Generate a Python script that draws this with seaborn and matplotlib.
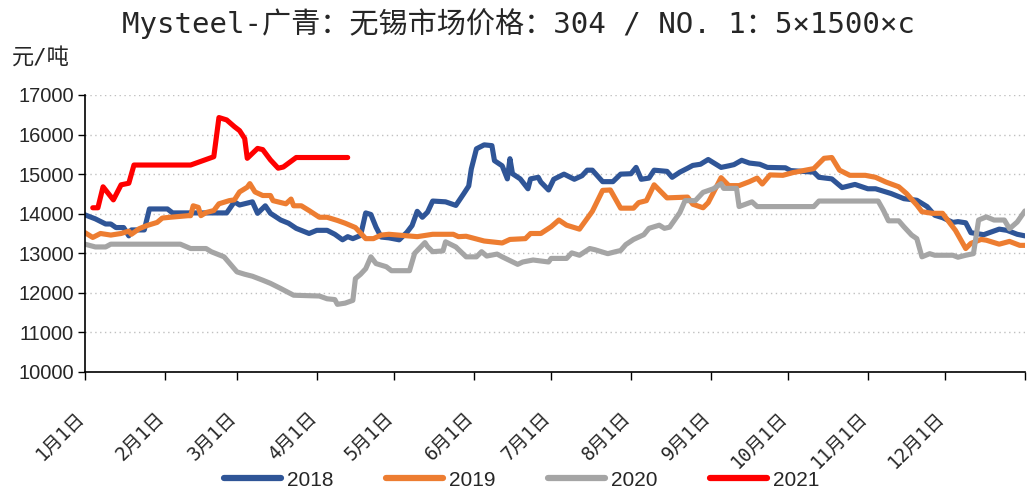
import matplotlib
matplotlib.use("Agg")
import matplotlib.pyplot as plt
import matplotlib.transforms as mtransforms
import seaborn as sns
import pandas as pd
from matplotlib.lines import Line2D

# day-of-year positions and prices (元/吨)
days_2018 = [0, 4, 8, 10, 12, 15, 17, 18, 23, 25, 32, 34, 55, 58, 60, 65, 67, 70, 72, 76,
             79, 82, 87, 90, 94, 97, 100, 102, 104, 107, 109, 111, 113, 115, 118, 122, 125,
             127, 129, 131, 133, 135, 140, 144, 147, 149, 150, 152, 155, 158, 159, 162, 164,
             165, 166, 169, 172, 173, 176, 177, 180, 182, 186, 190, 193, 195, 197, 201, 205,
             208, 212, 214, 216, 219, 221, 226, 228, 231, 234, 236, 239, 242, 245, 247, 250,
             252, 255, 258, 262, 265, 272, 274, 283, 285, 290, 294, 299, 304, 307, 313, 318,
             323, 327, 330, 333, 337, 339, 342, 344, 349, 355, 358, 362, 365]
price_2018 = [13970, 13870, 13740, 13740, 13650, 13650, 13440, 13590, 13590, 14120, 14120,
              14020, 14020, 14300, 14220, 14300, 14010, 14200, 14010, 13840, 13760, 13630,
              13500, 13580, 13580, 13480, 13340, 13420, 13370, 13450, 14020, 13980, 13660,
              13410, 13390, 13340, 13530, 13700, 14060, 13910, 14040, 14320, 14300, 14210,
              14500, 14700, 15130, 15640, 15740, 15720, 15340, 15210, 14880, 15390, 15010,
              14880, 14630, 14880, 14920, 14800, 14600, 14870, 15000, 14870, 14960, 15100,
              15100, 14810, 14810, 15000, 15010, 15170, 14870, 14900, 15100, 15070, 14920,
              15050, 15150, 15220, 15250, 15370, 15250, 15170, 15210, 15240, 15350, 15280,
              15250, 15170, 15160, 15090, 15050, 14920, 14880, 14660, 14740, 14630, 14630,
              14510, 14380, 14340, 14180, 13960, 13900, 13780, 13800, 13770, 13520, 13470,
              13610, 13580, 13480, 13440]

days_2019 = [0, 3, 6, 10, 14, 17, 18, 21, 24, 28, 30, 33, 40, 41, 42, 44, 45, 47, 50, 52,
             56, 58, 60, 63, 64, 66, 69, 72, 73, 78, 80, 81, 84, 87, 91, 94, 98, 101, 105,
             109, 112, 115, 118, 129, 135, 143, 145, 148, 155, 162, 165, 171, 173, 177, 181,
             184, 187, 192, 195, 197, 201, 204, 208, 213, 215, 218, 221, 226, 234, 236, 240,
             242, 244, 247, 250, 254, 258, 261, 263, 266, 271, 275, 283, 287, 290, 293, 297,
             303, 307, 311, 316, 319, 323, 325, 329, 333, 336, 338, 342, 344, 348, 350, 355,
             359, 363, 365]
price_2019 = [13520, 13400, 13500, 13460, 13500, 13560, 13480, 13620, 13700, 13780, 13890,
              13910, 13950, 13950, 14200, 14160, 13950, 14030, 14080, 14250, 14330, 14350,
              14550, 14670, 14760, 14550, 14460, 14460, 14330, 14250, 14370, 14200, 14200,
              14080, 13910, 13910, 13830, 13760, 13650, 13370, 13370, 13460, 13480, 13420,
              13480, 13480, 13420, 13430, 13310, 13260, 13350, 13370, 13500, 13500, 13670,
              13840, 13710, 13610, 13880, 14060, 14590, 14600, 14140, 14140, 14280, 14330,
              14730, 14400, 14420, 14240, 14150, 14280, 14530, 14910, 14710, 14710, 14810,
              14900, 14750, 14980, 14970, 15040, 15140, 15400, 15420, 15100, 14970, 14970,
              14920, 14800, 14680, 14510, 14220, 14050, 14010, 14010, 13750, 13580, 13120,
              13250, 13350, 13330, 13230, 13300, 13200, 13200]

days_2020 = [0, 4, 8, 10, 37, 41, 47, 49, 54, 59, 62, 65, 69, 72, 76, 81, 91, 94, 97, 98,
             101, 104, 105, 107, 109, 111, 113, 117, 119, 126, 128, 132, 133, 135, 139, 140,
             144, 148, 152, 154, 156, 160, 162, 168, 170, 174, 180, 181, 187, 189, 192, 196,
             198, 203, 206, 208, 210, 213, 217, 219, 223, 225, 227, 231, 233, 237, 240, 244,
             247, 248, 253, 254, 259, 261, 283, 285, 308, 310, 312, 316, 318, 321, 323, 325,
             328, 330, 337, 339, 342, 345, 347, 350, 353, 357, 359, 362, 365]
price_2020 = [13230, 13160, 13160, 13230, 13230, 13120, 13120, 13040, 12910, 12530, 12470,
              12420, 12320, 12240, 12110, 11940, 11920, 11850, 11830, 11710, 11740, 11810,
              12360, 12470, 12610, 12910, 12740, 12660, 12560, 12560, 13000, 13270, 13170,
              13040, 13060, 13290, 13160, 12910, 12910, 13040, 12930, 12980, 12910, 12720,
              12780, 12830, 12780, 12870, 12870, 13010, 12950, 13120, 13090, 12990, 13040,
              13070, 13220, 13350, 13470, 13630, 13710, 13630, 13660, 14030, 14330, 14330,
              14540, 14630, 14760, 14640, 14640, 14180, 14300, 14180, 14180, 14320, 14320,
              14090, 13820, 13820, 13670, 13460, 13370, 12910, 12990, 12950, 12950, 12900,
              12950, 12990, 13840, 13920, 13840, 13840, 13620, 13790, 14070]

days_2021 = [3, 5, 7, 11, 14, 17, 19, 41, 50, 52, 55, 58, 60, 62, 63, 67, 69, 72, 75, 77,
             82, 102]
price_2021 = [14150, 14150, 14680, 14350, 14730, 14770, 15230, 15230, 15440, 16430, 16370,
              16200, 16100, 15900, 15400, 15650, 15620, 15360, 15150, 15180, 15420, 15420]

years = ["2018", "2019", "2020", "2021"]
colors = ["#2F5597", "#ED7D31", "#A5A5A5", "#FF0000"]

month_starts = [0, 31, 59, 90, 120, 151, 181, 212, 243, 273, 304, 334]
month_labels = [f"{m}月1日" for m in range(1, 13)]

frames = []
for yr, d, p in zip(years, [days_2018, days_2019, days_2020, days_2021],
                    [price_2018, price_2019, price_2020, price_2021]):
    frames.append(pd.DataFrame({"day": d, "price": p, "year": yr}))
df = pd.concat(frames, ignore_index=True)

sns.set_style("white")
plt.rcParams["font.family"] = ["Noto Sans CJK SC", "DejaVu Sans"]
mono_cjk = ["DejaVu Sans Mono", "Noto Sans CJK SC"]

fig = plt.figure(figsize=(10.27, 4.95), dpi=100)
ax = fig.add_axes([0.0828, 0.2485, 0.9152, 0.5596])

sns.lineplot(data=df, x="day", y="price", hue="year", palette=colors,
             linewidth=3.7, estimator=None, sort=False, legend=False, ax=ax)

ax.set_xlim(0, 365)
ax.set_ylim(10000, 17000)
ax.set_yticks(range(10000, 17001, 1000))
ax.set_yticklabels([str(v) for v in range(10000, 17001, 1000)],
                   family="Liberation Sans", fontsize=14.5)
ax.set_xticks(month_starts)
ax.set_xticks([365], minor=True)
ax.set_xticklabels(month_labels, rotation=45, ha="right", rotation_mode="anchor",
                   fontsize=13.5, family=mono_cjk)
ax.tick_params(axis="x", which="both", direction="out", length=6, width=1,
               color="black", pad=20, bottom=True)
ax.tick_params(axis="y", direction="out", length=5, width=1, color="black",
               left=True, pad=3)
# shift the rotated month labels a little to the left, like the source chart
shift = mtransforms.ScaledTranslation(-0.10, 0, fig.dpi_scale_trans)
for lbl in ax.get_xticklabels():
    lbl.set_transform(lbl.get_transform() + shift)

ax.set_xlabel("")
ax.set_ylabel("")
ax.yaxis.grid(True, linestyle=(0, (1, 2.5)), color="#C0C0C0", linewidth=1)
ax.xaxis.grid(False)
for side in ["top", "right"]:
    ax.spines[side].set_visible(False)
for side in ["left", "bottom"]:
    ax.spines[side].set_color("black")
    ax.spines[side].set_linewidth(1.2)

fig.text(0.505, 0.953, "Mysteel-广青：无锡市场价格：304 / NO. 1：5×1500×c",
         ha="center", va="center", fontsize=21, family=mono_cjk)
fig.text(0.012, 0.885, "元/吨", ha="left", va="center", fontsize=16, family=mono_cjk)

handles = [Line2D([0], [0], color=c, linewidth=4.5, solid_capstyle="round")
           for c in colors]
fig.legend(handles, years, loc="center", bbox_to_anchor=(0.508, 0.03), ncol=4,
           frameon=False, handlelength=2.75, columnspacing=2.5, handletextpad=0.3,
           prop={"family": ["Liberation Sans Narrow", "Liberation Sans"], "size": 15})

fig.savefig("out.png", dpi=100)
